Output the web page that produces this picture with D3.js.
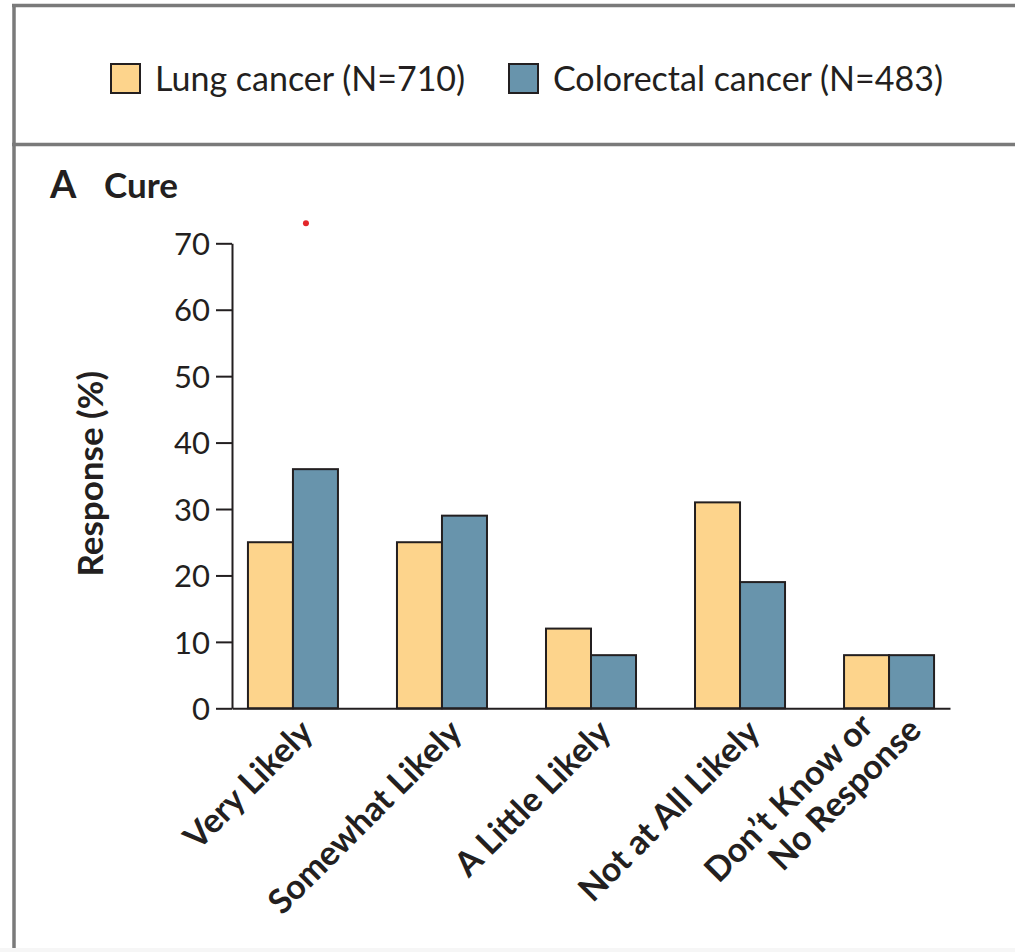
<!DOCTYPE html>
<html>
<head>
<meta charset="utf-8">
<script src="https://cdn.jsdelivr.net/npm/d3@7"></script>
<style>
  html, body { margin: 0; padding: 0; background: #fff; }
  svg { display: block; }
  text { font-family: Lato, "Open Sans", sans-serif; fill: #231f20; }
</style>
</head>
<body>
<svg id="chart" width="1015" height="952"></svg>
<script>
// ---- Data ----
const categories = ["Very Likely", "Somewhat Likely", "A Little Likely", "Not at All Likely", "Don\u2019t Know or\nNo Response"];
const seriesNames = ["Lung cancer (N=710)", "Colorectal cancer (N=483)"];
const lungValues = [25, 25, 12, 31, 8];
const colorectalValues = [36, 29, 8, 19, 8];
const yTicks = [0, 10, 20, 30, 40, 50, 60, 70];
const panelLabel = "A";
const panelTitle = "Cure";
const yTitle = "Response (%)";
const markerValue = 73; // stray red dot in source image

const colors = ["#FDD48C", "#6894AC"];
const rows = categories.map((c, i) => ({ cat: c, values: [lungValues[i], colorectalValues[i]] }));

const svg = d3.select("#chart");
const W = 1015, H = 952;

svg.append("rect").attr("width", W).attr("height", H).attr("fill", "#fff");
svg.append("rect").attr("x", 0).attr("y", H - 4).attr("width", W).attr("height", 4).attr("fill", "#f6f6f6");

// frame
const frame = svg.append("g").attr("stroke", "#7a7a7a").attr("stroke-width", 3.5);
frame.append("line").attr("x1", 14).attr("x2", 14).attr("y1", 4).attr("y2", H - 4);
frame.append("line").attr("x1", 12).attr("x2", W).attr("y1", 5.5).attr("y2", 5.5);
frame.append("line").attr("x1", 12).attr("x2", W).attr("y1", 144.5).attr("y2", 144.5);

// legend
const legendItems = [{ x: 111 }, { x: 509 }];
const leg = svg.append("g");
seriesNames.forEach((name, i) => {
  const g = leg.append("g").attr("transform", `translate(${legendItems[i].x},64)`);
  g.append("rect").attr("x", 0).attr("y", 0).attr("width", 29).attr("height", 29)
    .attr("fill", colors[i]).attr("stroke", "#231f20").attr("stroke-width", 2);
  g.append("text").attr("x", 44).attr("y", 27).attr("font-size", 34).text(name);
});

// panel title
svg.append("text").attr("x", 50).attr("y", 198).attr("font-size", 38).attr("font-weight", 700).text(panelLabel);
svg.append("text").attr("x", 104).attr("y", 198).attr("font-size", 35).attr("font-weight", 700).text(panelTitle);

// scales
const x0 = d3.scaleBand().domain(categories).range([232, 950]).paddingInner(0.396).paddingOuter(0.107);
const x1 = d3.scaleBand().domain([0, 1]).range([0, x0.bandwidth()]);
const y = d3.scaleLinear().domain([0, 70]).range([708.3, 243.3]);

// y axis
const yAxis = d3.axisLeft(y).tickValues(yTicks).tickSize(16).tickSizeOuter(0).tickPadding(6);
const gy = svg.append("g").attr("transform", "translate(232,0)").call(yAxis);
gy.select(".domain").attr("stroke", "#231f20").attr("stroke-width", 2);
gy.selectAll(".tick line").attr("stroke", "#231f20").attr("stroke-width", 2);
gy.selectAll(".tick text").attr("font-size", 31).attr("font-family", "Lato, sans-serif").attr("fill", "#231f20").attr("dy", "0.36em");

// y title
svg.append("text")
  .attr("transform", `translate(103,${(y(0) + y(70)) / 2 - 2}) rotate(-90)`)
  .attr("text-anchor", "middle").attr("font-size", 35).attr("font-weight", 700)
  .text(yTitle);

// bars
const groups = svg.append("g").selectAll("g").data(rows).join("g")
  .attr("transform", d => `translate(${x0(d.cat)},0)`);
groups.selectAll("rect").data(d => d.values.map((v, i) => ({ v, i }))).join("rect")
  .attr("x", d => x1(d.i))
  .attr("y", d => y(d.v))
  .attr("width", x1.bandwidth())
  .attr("height", d => y(0) - y(d.v))
  .attr("fill", d => colors[d.i])
  .attr("stroke", "#231f20").attr("stroke-width", 2);

// x axis baseline
const xAxis = d3.axisBottom(x0).tickSize(0).tickSizeOuter(0).tickFormat("");
const gx = svg.append("g").attr("transform", `translate(0,${y(0)})`).call(xAxis);
gx.select(".domain").attr("stroke", "#231f20").attr("stroke-width", 2);

// x labels
const lineOffsets = [[-21, -30], [10, 7]];
categories.forEach(c => {
  const cx = x0(c) + x0.bandwidth() / 2;
  const lines = c.split("\n");
  const t = svg.append("text")
    .attr("transform", `translate(${cx + 22},${y(0) + 26}) rotate(-45)`)
    .attr("text-anchor", "end").attr("font-size", 34).attr("font-weight", 700);
  if (lines.length === 1) {
    t.text(c);
  } else {
    lines.forEach((ln, k) => {
      t.append("tspan").attr("x", lineOffsets[k][0]).attr("y", lineOffsets[k][1]).text(ln);
    });
  }
});

// stray red dot present in the source image
svg.append("circle")
  .attr("cx", x0(categories[0]) + x1(1) + 13)
  .attr("cy", y(markerValue))
  .attr("r", 3).attr("fill", "#e3262a");
</script>
</body>
</html>
